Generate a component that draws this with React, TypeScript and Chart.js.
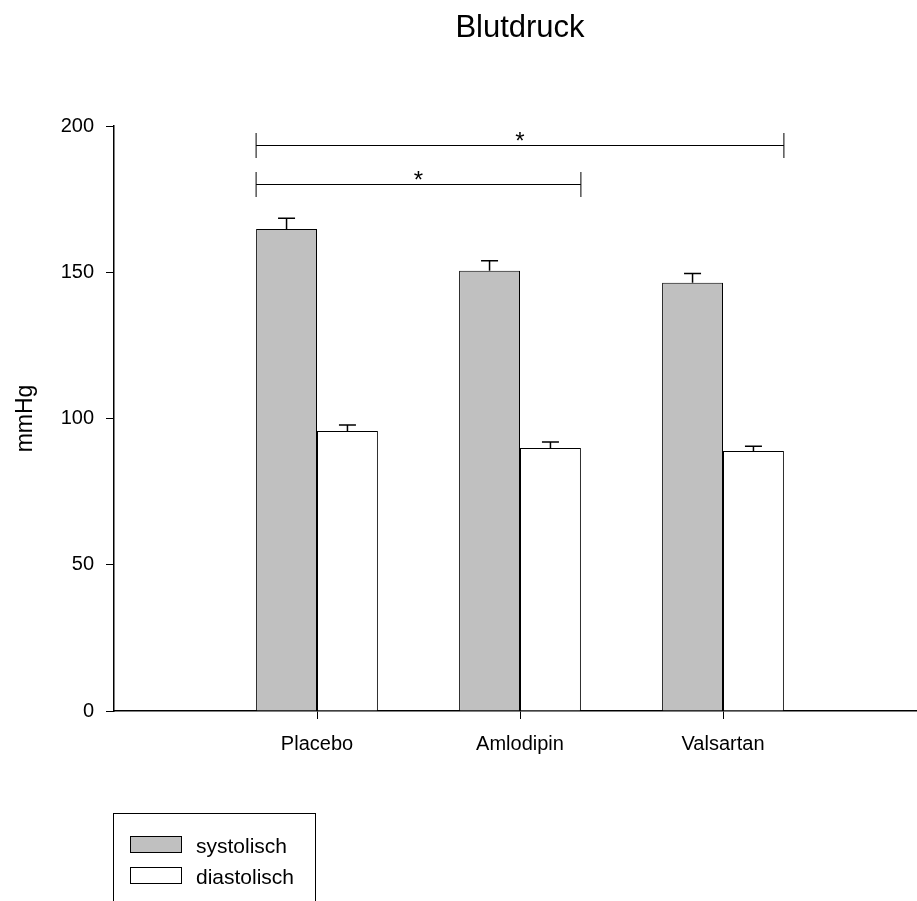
import React, { useEffect, useRef } from 'react';
import { Chart, registerables } from 'chart.js';

Chart.register(...registerables);

const chartTitle = 'Blutdruck';
const yAxisTitle = 'mmHg';
const categories = ['Placebo', 'Amlodipin', 'Valsartan'];
const seriesNames = ['systolisch', 'diastolisch'];
const seriesColors = ['#c0c0c0', '#ffffff'];
const systolic = [164.8, 150.5, 146.4];
const systolicErr = [3.7, 3.4, 3.2];
const diastolic = [95.7, 89.9, 88.9];
const diastolicErr = [2.1, 2.1, 1.6];
const yMin = 0;
const yMax = 200;
const yStep = 50;
// significance brackets
const bracketFrom = [0, 0];
const bracketTo = [2, 1];
const bracketLevel = [193.5, 180.3];
const bracketMark = ['*', '*'];

const FONT = "'Liberation Sans', Arial, sans-serif";

const pad = (arr: (number | null)[]) => [null, ...arr, null];

const errorBarPlugin = {
  id: 'errorBars',
  afterDatasetsDraw(chart: any) {
    const { ctx } = chart;
    const ys = chart.scales.y;
    chart.data.datasets.forEach((ds: any, di: number) => {
      const meta = chart.getDatasetMeta(di);
      meta.data.forEach((bar: any, i: number) => {
        const v = ds.data[i];
        const e = ds.errors ? ds.errors[i] : null;
        if (v == null || e == null) return;
        const x = bar.x;
        const y0 = ys.getPixelForValue(v);
        const y1 = ys.getPixelForValue(v + e);
        ctx.save();
        ctx.strokeStyle = '#000';
        ctx.lineWidth = 1.5;
        ctx.beginPath();
        ctx.moveTo(x, y0);
        ctx.lineTo(x, y1);
        ctx.moveTo(x - 8.5, y1);
        ctx.lineTo(x + 8.5, y1);
        ctx.stroke();
        ctx.restore();
      });
    });
  },
};

const bracketPlugin = {
  id: 'brackets',
  afterDatasetsDraw(chart: any) {
    const { ctx } = chart;
    const ys = chart.scales.y;
    const m0 = chart.getDatasetMeta(0);
    const m1 = chart.getDatasetMeta(1);
    bracketFrom.forEach((from, k) => {
      const b0 = m0.data[from + 1];
      const b1 = m1.data[bracketTo[k] + 1];
      const xl = b0.x - b0.width / 2;
      const xr = b1.x + b1.width / 2;
      const y = Math.round(ys.getPixelForValue(bracketLevel[k])) + 0.5;
      ctx.save();
      ctx.strokeStyle = '#000';
      ctx.lineWidth = 1;
      ctx.beginPath();
      ctx.moveTo(xl, y);
      ctx.lineTo(xr, y);
      ctx.moveTo(xl, y - 12.5);
      ctx.lineTo(xl, y + 12.5);
      ctx.moveTo(xr, y - 12.5);
      ctx.lineTo(xr, y + 12.5);
      ctx.stroke();
      ctx.fillStyle = '#000';
      ctx.font = `24px ${FONT}`;
      ctx.textAlign = 'center';
      ctx.textBaseline = 'alphabetic';
      ctx.fillText(bracketMark[k], (xl + xr) / 2, y + 3);
      ctx.restore();
    });
  },
};

const decorPlugin = {
  id: 'decor',
  afterDraw(chart: any) {
    const { ctx, chartArea } = chart;
    ctx.save();
    // title
    ctx.fillStyle = '#000';
    ctx.font = `31px ${FONT}`;
    ctx.textAlign = 'center';
    ctx.textBaseline = 'alphabetic';
    ctx.fillText(chartTitle, (chartArea.left + chartArea.right) / 2, 37);
    // legend
    ctx.strokeStyle = '#000';
    ctx.lineWidth = 1;
    ctx.strokeRect(113.5, 813.5, 202, 200);
    ctx.font = `21px ${FONT}`;
    ctx.textAlign = 'left';
    seriesNames.forEach((name, i) => {
      const top = 836 + i * 31;
      ctx.fillStyle = seriesColors[i];
      ctx.fillRect(130.5, top + 0.5, 51, 16);
      ctx.strokeRect(130.5, top + 0.5, 51, 16);
      ctx.fillStyle = '#000';
      ctx.fillText(name, 196, top + 16.5);
    });
    ctx.restore();
  },
};

export default function App() {
  const ref = useRef<HTMLCanvasElement | null>(null);
  useEffect(() => {
    if (!ref.current) return;
    const chart = new Chart(ref.current, {
      type: 'bar',
      data: {
        labels: ['', ...categories, ''],
        datasets: [
          {
            label: seriesNames[0],
            data: pad(systolic),
            errors: pad(systolicErr),
            backgroundColor: seriesColors[0],
            borderColor: '#000',
            borderWidth: 1,
            categoryPercentage: 0.6,
            barPercentage: 1,
          } as any,
          {
            label: seriesNames[1],
            data: pad(diastolic),
            errors: pad(diastolicErr),
            backgroundColor: seriesColors[1],
            borderColor: '#000',
            borderWidth: 1,
            categoryPercentage: 0.6,
            barPercentage: 1,
          } as any,
        ],
      },
      options: {
        animation: false,
        responsive: false,
        maintainAspectRatio: false,
        layout: { padding: { left: 0, right: 14, top: 126, bottom: 130 } },
        plugins: {
          legend: { display: false },
          title: { display: false },
          tooltip: { enabled: false },
        },
        scales: {
          x: {
            offset: false,
            grid: {
              offset: false,
              display: true,
              drawOnChartArea: false,
              drawTicks: true,
              tickLength: 8,
              color: (c: any) => (c.tick && c.tick.label ? '#000' : 'rgba(0,0,0,0)'),
            },
            border: { display: true, color: '#000', width: 1.5 },
            ticks: {
              color: '#000',
              font: { family: FONT, size: 20 },
              padding: 13,
              maxRotation: 0,
              autoSkip: false,
            },
            afterFit: (s: any) => {
              s.height = 60;
            },
          },
          y: {
            min: yMin,
            max: yMax,
            grid: {
              display: true,
              drawOnChartArea: false,
              drawTicks: true,
              tickLength: 8,
              color: '#000',
            },
            border: { display: true, color: '#000', width: 1.5 },
            ticks: {
              stepSize: yStep,
              color: '#000',
              font: { family: FONT, size: 20 },
              padding: 12,
            },
            title: {
              display: true,
              text: yAxisTitle,
              color: '#000',
              font: { family: FONT, size: 23 },
              padding: { top: 12, bottom: 0 },
            },
            afterFit: (s: any) => {
              s.width = 114;
            },
          },
        },
      },
      plugins: [errorBarPlugin, bracketPlugin, decorPlugin],
    });
    return () => chart.destroy();
  }, []);
  return (
    <div
      style={{
        position: 'fixed',
        left: 0,
        top: 0,
        width: 917,
        height: 901,
        overflow: 'hidden',
        background: '#fff',
      }}
    >
      <canvas ref={ref} width={940} height={901} style={{ display: 'block' }} />
    </div>
  );
}
